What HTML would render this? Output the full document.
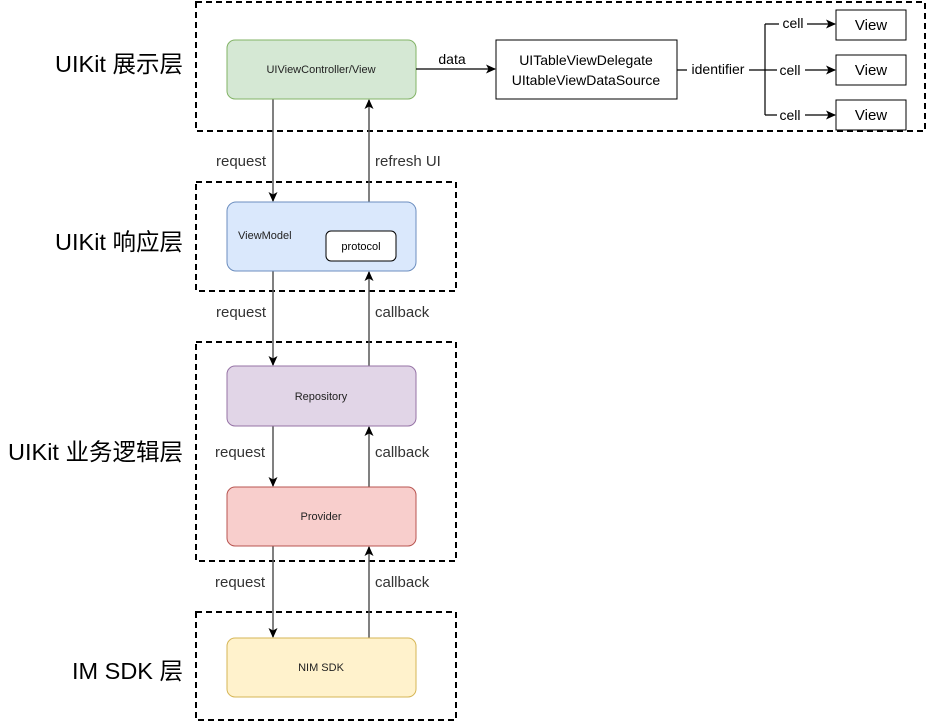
<!DOCTYPE html>
<html><head><meta charset="utf-8"><style>
html,body{margin:0;padding:0;background:#fff;width:928px;height:722px;overflow:hidden}
svg{display:block;font-family:"Liberation Sans","Noto Sans CJK SC",sans-serif}
</style></head><body>
<svg width="928" height="722" viewBox="0 0 928 722" xmlns="http://www.w3.org/2000/svg">
<defs><marker id="a" markerWidth="10" markerHeight="10" refX="9" refY="5" orient="auto" markerUnits="userSpaceOnUse"><path d="M0,0.5 L10,5 L0,9.5 L2.5,5 Z" fill="#000"/></marker></defs>
<g fill="none" stroke="#000" stroke-width="2" stroke-dasharray="6,4">
<rect x="196" y="2" width="729" height="129"/>
<rect x="196" y="182" width="260" height="109"/>
<rect x="196" y="342" width="260" height="219"/>
<rect x="196" y="612" width="260" height="108"/>
</g>
<g font-size="23.5" fill="#000" text-anchor="end">
<text x="183" y="72">UIKit 展示层</text>
<text x="183" y="250">UIKit 响应层</text>
<text x="183" y="460">UIKit 业务逻辑层</text>
<text x="183" y="679">IM SDK 层</text>
</g>
<g stroke="#555" stroke-width="1.5" marker-end="url(#a)">
<line x1="273" y1="99" x2="273" y2="201"/>
<line x1="369" y1="202" x2="369" y2="100"/>
<line x1="273" y1="271" x2="273" y2="365"/>
<line x1="369" y1="366" x2="369" y2="272"/>
<line x1="273" y1="426" x2="273" y2="486"/>
<line x1="369" y1="487" x2="369" y2="427"/>
<line x1="273" y1="546" x2="273" y2="637"/>
<line x1="369" y1="638" x2="369" y2="547"/>
</g>
<g font-size="15" fill="#333">
<rect x="214" y="150" width="58" height="20" fill="#fff"/><text x="216" y="166">request</text>
<rect x="372" y="150" width="76" height="20" fill="#fff"/><text x="375" y="166">refresh UI</text>
<rect x="214" y="300" width="58" height="20" fill="#fff"/><text x="216" y="317">request</text>
<rect x="372" y="300" width="64" height="20" fill="#fff"/><text x="375" y="317">callback</text>
<text x="215" y="457">request</text>
<text x="375" y="457">callback</text>
<rect x="212" y="570" width="60" height="22" fill="#fff"/><text x="215" y="587">request</text>
<rect x="371" y="570" width="64" height="22" fill="#fff"/><text x="375" y="587">callback</text>
</g>
<rect x="227" y="40" width="189" height="59" rx="8" fill="#d5e8d4" stroke="#82b366"/>
<text x="321" y="73" font-size="11" text-anchor="middle" fill="#222">UIViewController/View</text>
<rect x="227" y="202" width="189" height="69" rx="9" fill="#dae8fc" stroke="#6c8ebf"/>
<text x="238" y="239" font-size="11" fill="#222">ViewModel</text>
<rect x="326" y="231" width="70" height="30" rx="5" fill="#fff" stroke="#000"/>
<text x="361" y="250" font-size="11" text-anchor="middle" fill="#000">protocol</text>
<rect x="227" y="366" width="189" height="60" rx="8" fill="#e1d5e7" stroke="#9673a6"/>
<text x="321" y="400" font-size="11" text-anchor="middle" fill="#222">Repository</text>
<rect x="227" y="487" width="189" height="59" rx="8" fill="#f8cecc" stroke="#b85450"/>
<text x="321" y="520" font-size="11" text-anchor="middle" fill="#222">Provider</text>
<rect x="227" y="638" width="189" height="59" rx="8" fill="#fff2cc" stroke="#d6b656"/>
<text x="321" y="671" font-size="11" text-anchor="middle" fill="#222">NIM SDK</text>
<line x1="416" y1="69" x2="495" y2="69" stroke="#000" stroke-width="1.2" marker-end="url(#a)"/>
<text x="452" y="64" font-size="14" text-anchor="middle">data</text>
<rect x="496" y="40" width="181" height="59" fill="#fff" stroke="#000"/>
<text x="586" y="65" font-size="14" text-anchor="middle">UITableViewDelegate</text>
<text x="586" y="85" font-size="14" text-anchor="middle">UItableViewDataSource</text>
<g stroke="#000" stroke-width="1.2" fill="none">
<line x1="677" y1="70" x2="765" y2="70"/>
<line x1="765" y1="24" x2="765" y2="115"/>
<line x1="765" y1="24" x2="835" y2="24" marker-end="url(#a)"/>
<line x1="765" y1="70" x2="835" y2="70" marker-end="url(#a)"/>
<line x1="765" y1="115" x2="835" y2="115" marker-end="url(#a)"/>
</g>
<g font-size="14" text-anchor="middle">
<rect x="687" y="60" width="62" height="18" fill="#fff"/><text x="718" y="74">identifier</text>
<rect x="779" y="14" width="28" height="18" fill="#fff"/><text x="793" y="28">cell</text>
<rect x="777" y="61" width="28" height="18" fill="#fff"/><text x="790" y="75">cell</text>
<rect x="777" y="106" width="28" height="18" fill="#fff"/><text x="790" y="120">cell</text>
</g>
<g fill="#fff" stroke="#000">
<rect x="836" y="10" width="70" height="30"/>
<rect x="836" y="55" width="70" height="30"/>
<rect x="836" y="100" width="70" height="30"/>
</g>
<g font-size="15" text-anchor="middle">
<text x="871" y="30">View</text><text x="871" y="75">View</text><text x="871" y="120">View</text>
</g>
</svg>
</body></html>
